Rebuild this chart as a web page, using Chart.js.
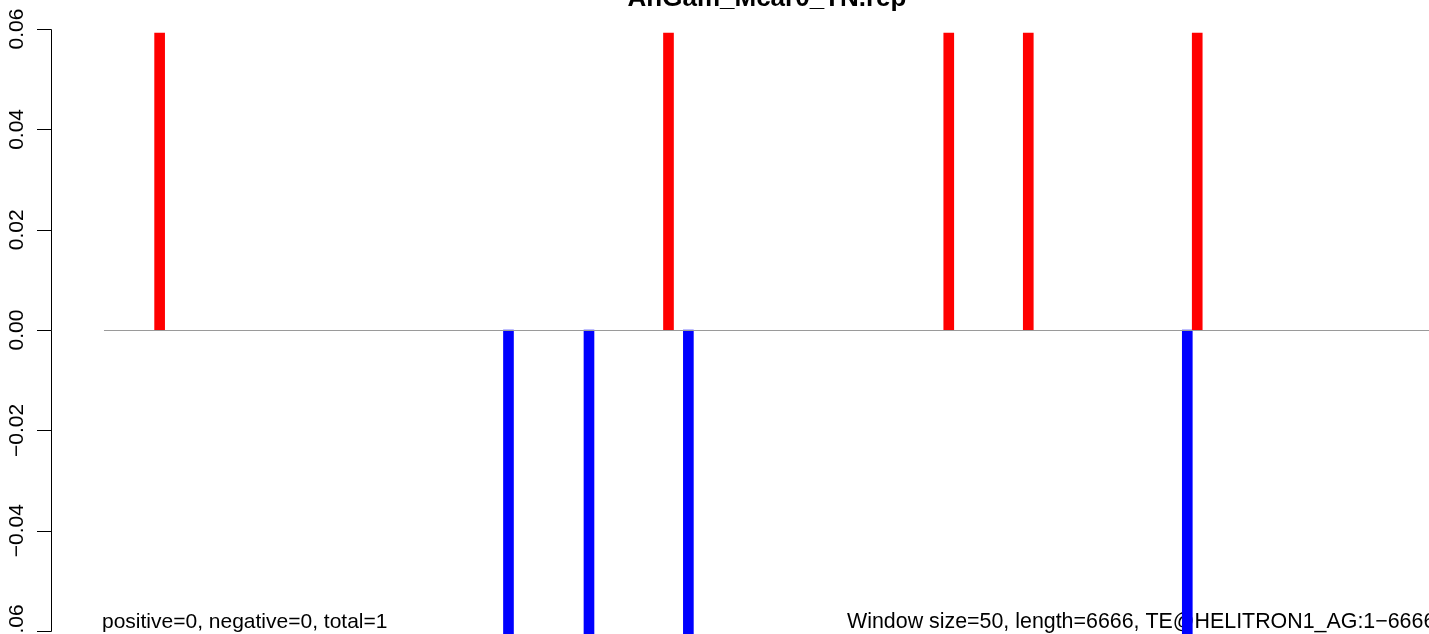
<!DOCTYPE html>
<html>
<head>
<meta charset="utf-8">
<script src="https://cdn.jsdelivr.net/npm/chart.js@4/dist/chart.umd.min.js"></script>
<style>
  html, body { margin: 0; padding: 0; background: #fff; overflow: hidden; }
  #wrap { width: 1429px; height: 634px; position: relative; }
</style>
</head>
<body>
<div id="wrap"><canvas id="chart"></canvas></div>
<script>
// window index (50 bp windows over 6666 bp) and score
const posWindows = [5.6, 56.8, 85.0, 93.0, 110.0];
const posValues = [0.0592, 0.0592, 0.0592, 0.0592, 0.0592];
const negWindows = [40.7, 48.8, 58.8, 109.0];
const negValues = [-0.0625, -0.0625, -0.0625, -0.0625];
const yTicks = [-0.06, -0.04, -0.02, 0, 0.02, 0.04, 0.06];
const nWindows = 6666 / 50;

const titleText = 'AnGam_Mcar0_TN.rep';
const leftNote = 'positive=0, negative=0, total=1';
const rightNote = 'Window size=50, length=6666, TE@HELITRON1_AG:1\u22126666';

const FONT = '"Liberation Sans", Arial, Helvetica, sans-serif';

function fmtTick(v) {
    const s = Math.abs(v).toFixed(2);
    return v < 0 ? '\u2212' + s : s;
}

// R-style axis, title and notes
const rDecor = {
    id: 'rDecor',
    beforeDatasetsDraw(chart) {
        const ctx = chart.ctx;
        const y = chart.scales.y;
        const left = chart.chartArea.left;
        ctx.save();

        // y axis line + ticks
        ctx.strokeStyle = '#000';
        ctx.lineWidth = 1;
        ctx.beginPath();
        ctx.moveTo(left + 0.5, Math.round(y.getPixelForValue(yTicks[yTicks.length - 1])) + 0.5);
        ctx.lineTo(left + 0.5, Math.round(y.getPixelForValue(yTicks[0])) + 0.5);
        yTicks.forEach(t => {
            const py = Math.round(y.getPixelForValue(t)) + 0.5;
            ctx.moveTo(left + 0.5, py);
            ctx.lineTo(left - 14, py);
        });
        ctx.stroke();

        // rotated tick labels
        ctx.fillStyle = '#000';
        ctx.font = '21px ' + FONT;
        ctx.textAlign = 'center';
        ctx.textBaseline = 'alphabetic';
        yTicks.forEach(t => {
            const py = y.getPixelForValue(t);
            ctx.save();
            ctx.translate(23, py);
            ctx.rotate(-Math.PI / 2);
            ctx.fillText(fmtTick(t), 0, 0);
            ctx.restore();
        });

        // title
        ctx.font = 'bold 26px ' + FONT;
        ctx.textAlign = 'center';
        ctx.fillText(titleText, 767, 6);

        // bottom notes
        ctx.font = '21px ' + FONT;
        ctx.textAlign = 'left';
        ctx.fillText(leftNote, 102, 628);
        ctx.font = '21.4px ' + FONT;
        ctx.fillText(rightNote, 847, 628);
        ctx.restore();
    },
    afterDatasetsDraw(chart) {
        const ctx = chart.ctx;
        const x = chart.scales.x;
        const y = chart.scales.y;
        const py = Math.round(y.getPixelForValue(0)) + 0.5;
        ctx.save();
        ctx.strokeStyle = '#9a9a9a';
        ctx.lineWidth = 1.2;
        ctx.beginPath();
        ctx.moveTo(x.getPixelForValue(0), py);
        ctx.lineTo(x.getPixelForValue(nWindows), py);
        ctx.stroke();
        ctx.restore();
    }
};

new Chart(document.getElementById('chart'), {
    type: 'bar',
    data: {
        datasets: [
            {
                data: posWindows.map((w, i) => ({ x: w, y: posValues[i] })),
                backgroundColor: '#ff0000',
                barThickness: 10,
                grouped: false
            },
            {
                data: negWindows.map((w, i) => ({ x: w, y: negValues[i] })),
                backgroundColor: '#0000ff',
                barThickness: 10,
                grouped: false
            }
        ]
    },
    options: {
        responsive: true,
        maintainAspectRatio: false,
        animation: false,
        layout: { padding: { left: 51, right: 0, top: 0, bottom: 0 } },
        plugins: {
            legend: { display: false },
            title: { display: false },
            tooltip: { enabled: false }
        },
        scales: {
            x: {
                type: 'linear',
                offset: false,
                min: -5.33,
                max: nWindows,
                display: false
            },
            y: {
                min: -0.0606,
                max: 0.0658,
                display: false
            }
        }
    },
    plugins: [rDecor]
});
</script>
</body>
</html>
